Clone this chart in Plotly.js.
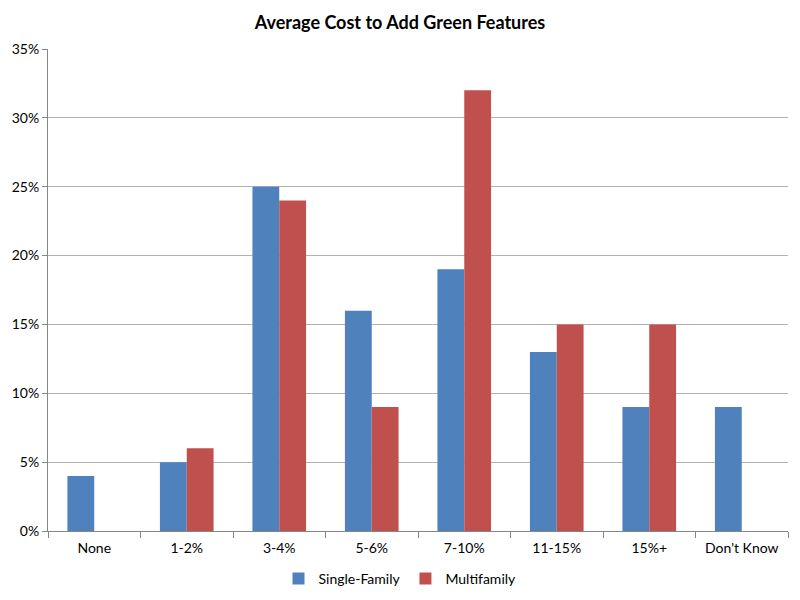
<!DOCTYPE html>
<html>
<head>
<meta charset="utf-8">
<script src="https://cdn.plot.ly/plotly-3.0.1.min.js"></script>
<style>
  body { margin: 0; }
  #chart { width: 800px; height: 600px; }
</style>
</head>
<body>
<div id="chart"></div>
<script>
var categories = ["None", "1-2%", "3-4%", "5-6%", "7-10%", "11-15%", "15%+", "Don't Know"]
var singleFamily = [4, 5, 25, 16, 19, 13, 9, 9]
var multifamily = [0, 6, 24, 9, 32, 15, 15, 0]
var yTicks = [0, 5, 10, 15, 20, 25, 30, 35]
var yTickLabels = ["0%", "5%", "10%", "15%", "20%", "25%", "30%", "35%"]

var chartFont = "Lato, 'Open Sans', sans-serif"

Plotly.newPlot(
    document.getElementById("chart"),
    [{
        type: "bar",
        name: "Single-Family",
        x: categories,
        y: singleFamily,
        marker: { color: "#4F81BD" },
    }, {
        type: "bar",
        name: "Multifamily",
        x: categories,
        y: multifamily,
        marker: { color: "#C0504D" },
    }],
    {
        width: 800,
        height: 600,
        margin: {t: 49, l: 48, r: 12, b: 69},
        paper_bgcolor: "#ffffff",
        plot_bgcolor: "#ffffff",
        font: { family: chartFont, size: 14, color: "#000000" },
        barmode: "group",
        bargap: 0.42,
        bargroupgap: 0,
        showlegend: true,
        title: {
            text: "<b>Average Cost to Add Green Features</b>",
            font: { family: chartFont, size: 18, color: "#000000" },
            x: 0.5,
            xanchor: "center",
            y: 0.963,
            yanchor: "middle",
        },
        xaxis: {
            type: "category",
            showgrid: false,
            showline: true,
            linecolor: "#868686",
            linewidth: 1,
            ticks: "outside",
            tickson: "boundaries",
            ticklen: 6,
            tickcolor: "#868686",
            ticklabelstandoff: 4,
            tickfont: { size: 14 },
            fixedrange: true,
        },
        yaxis: {
            range: [0, 35],
            tickvals: yTicks,
            ticktext: yTickLabels,
            showgrid: true,
            gridcolor: "#b3b3b3",
            showline: true,
            linecolor: "#868686",
            ticks: "outside",
            ticklen: 5,
            tickcolor: "#868686",
            zeroline: false,
            tickfont: { size: 14 },
            fixedrange: true,
        },
        legend: {
            orientation: "h",
            xref: "container",
            yref: "container",
            x: 0.5,
            xanchor: "center",
            y: 0.035,
            yanchor: "middle",
            font: { size: 14 },
            itemwidth: 30,
        },
    },
    { displayModeBar: false }
)
</script>
</body>
</html>
